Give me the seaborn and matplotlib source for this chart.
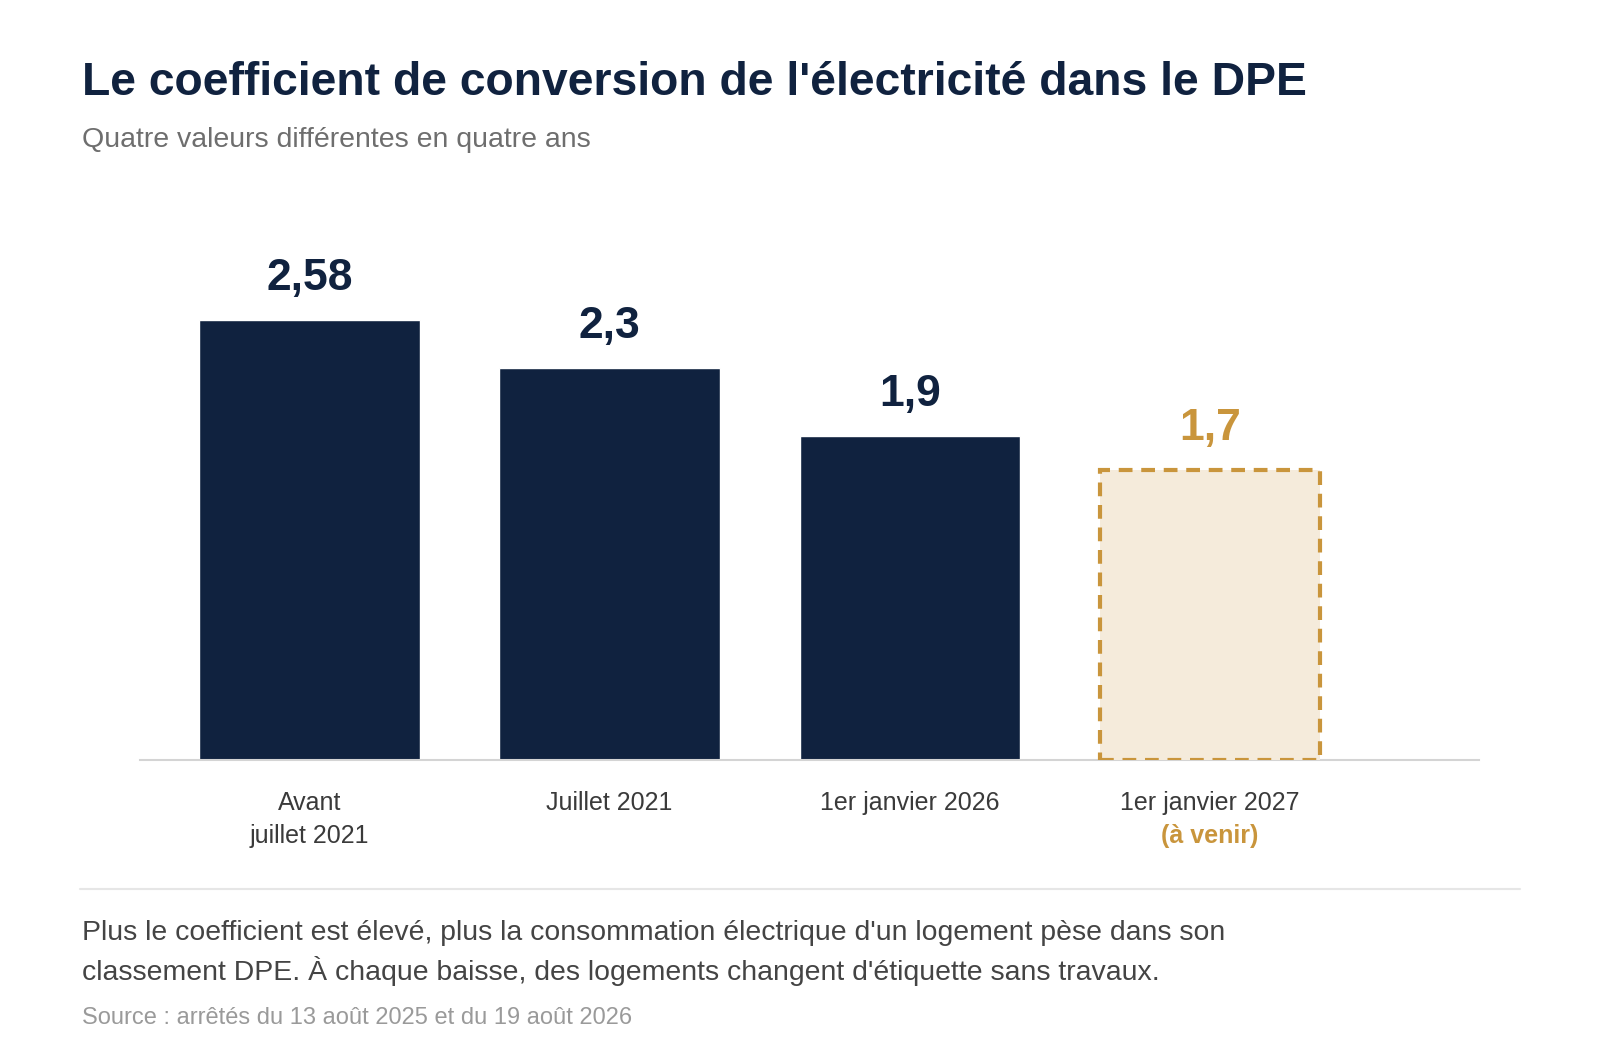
import numpy as np
import pandas as pd
import seaborn as sns
import matplotlib.pyplot as plt

categories = ["Avant\njuillet 2021", "Juillet 2021", "1er janvier 2026", "1er janvier 2027"]
values = [2.58, 2.3, 1.9, 1.7]
value_labels = ["2,58", "2,3", "1,9", "1,7"]
future_note = "(à venir)"

navy = "#10223f"
gold = "#c9953c"
cream = "#f5ebdb"

sns.set_theme(style="white")
plt.rcParams["font.family"] = ["Liberation Sans", "DejaVu Sans"]

df = pd.DataFrame({"periode": categories, "coef": values})

fig = plt.figure(figsize=(16, 10.4), dpi=100)
ax = fig.add_axes([0.0878, 0.2692, 0.8366, 0.5385])

sns.barplot(data=df, x="periode", y="coef", hue="periode",
            palette=[navy, navy, navy, cream], width=0.735,
            saturation=1, legend=False, ax=ax)

# last bar = future value, dashed outline
last = ax.patches[3]
last.set_edgecolor(gold)
last.set_linewidth(3)
last.set_linestyle((0, (3.3, 2.1)))
last.set_zorder(4)

for i, (v, lab) in enumerate(zip(values, value_labels)):
    ax.annotate(lab, xy=(i, v), xytext=(0, 21.5), textcoords="offset points",
                ha="center", va="baseline", fontsize=32, fontweight="bold",
                color=gold if i == 3 else navy)

ax.set_xlim(-0.563, 3.896)
ax.set_ylim(0, 3.284)
ax.set_xlabel("")
ax.set_ylabel("")
ax.set_yticks([])
ax.tick_params(axis="x", length=0, pad=22.5, labelsize=18, labelcolor="#3a3a3a")
for t in ax.get_xticklabels():
    t.set_linespacing(1.45)

ax.annotate(future_note, xy=(3, 0), xytext=(0, -59.5), textcoords="offset points",
            ha="center", va="baseline", fontsize=18, fontweight="bold", color=gold)

for s in ["top", "left", "right"]:
    ax.spines[s].set_visible(False)
ax.spines["bottom"].set_color("#d4d4d4")
ax.spines["bottom"].set_linewidth(1.5)

fig.text(0.0513, 0.9087, "Le coefficient de conversion de l'électricité dans le DPE",
         fontsize=33.3, fontweight="bold", color=navy, va="baseline")
fig.text(0.0513, 0.8587, "Quatre valeurs différentes en quatre ans",
         fontsize=20.5, color="#6e6e6e", va="baseline")

fig.add_artist(plt.Line2D([0.05, 0.950], [0.1452, 0.1452], color="#e6e6e6", lw=1.5))

fig.text(0.0513, 1 - 940 / 1040,
         "Plus le coefficient est élevé, plus la consommation électrique d'un logement pèse dans son",
         fontsize=20.4, color="#444444", va="baseline")
fig.text(0.0513, 1 - 980 / 1040,
         "classement DPE. À chaque baisse, des logements changent d'étiquette sans travaux.",
         fontsize=20.4, color="#444444", va="baseline")
fig.text(0.0513, 1 - 1024 / 1040, "Source : arrêtés du 13 août 2025 et du 19 août 2026",
         fontsize=17, color="#9a9a9a", va="baseline")

fig.savefig("out.png", dpi=100, facecolor="white")
